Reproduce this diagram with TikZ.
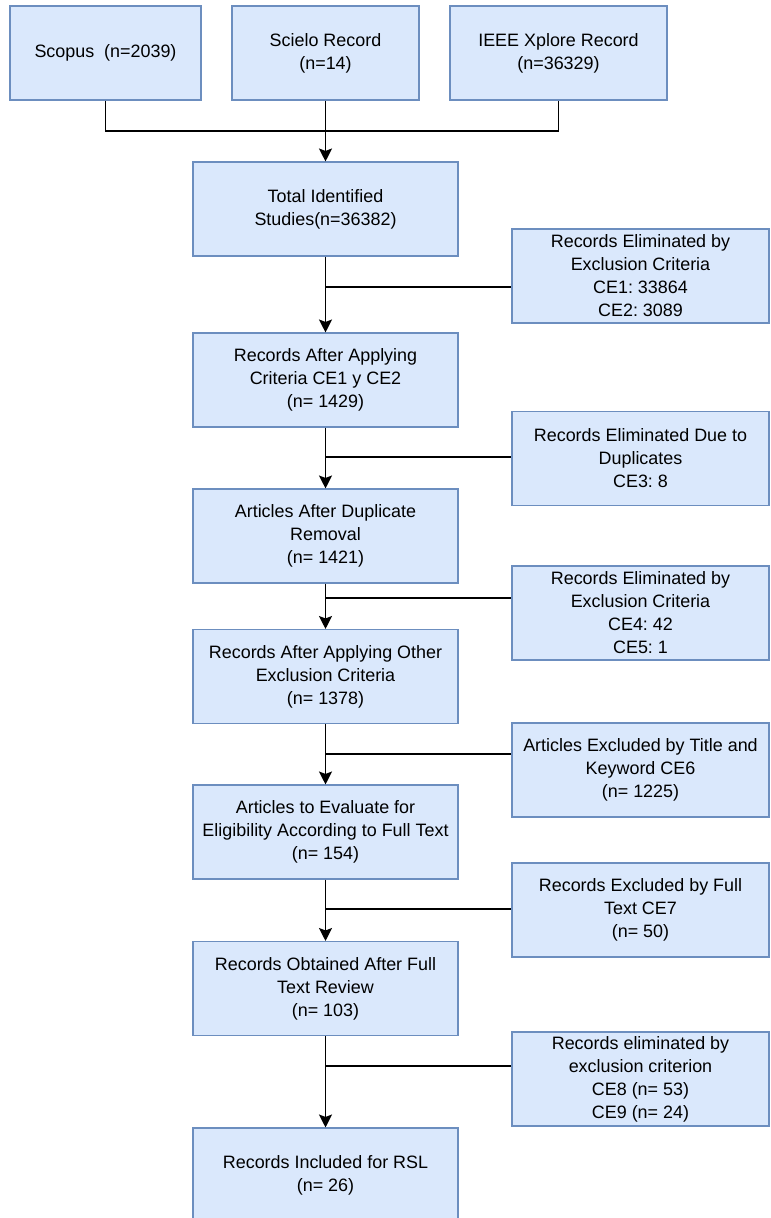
\documentclass[tikz,border=0pt]{standalone}
\usepackage{fontspec}
\setmainfont{Liberation Sans}
\usetikzlibrary{arrows.meta, positioning}

\definecolor{boxfill}{HTML}{DAE8FC}
\definecolor{boxline}{HTML}{6C8EBF}
\frenchspacing

\begin{document}
\begin{tikzpicture}[
    box/.style={rectangle, draw=boxline, line width=0.6pt, fill=boxfill, minimum width=5.3cm, minimum height=1.88cm, text centered, align=center, inner sep=1pt, font=\fontsize{10.2pt}{13.1pt}\selectfont},
    side/.style={box, minimum width=5.14cm},
    line/.style={line width=0.75pt},
    arrow/.style={-{Stealth[length=2.6mm, width=2.6mm, inset=0.5mm]}, line width=0.75pt}
]
\useasboundingbox (0,0) rectangle (15.4,-24.36);

% Sources (Top)
\node[box, minimum width=3.82cm] (scopus) at (2.11,-1.06) {Scopus\ \ (n=2039)};
\node[box, minimum width=3.74cm] (scielo) at (6.51,-1.06) {Scielo Record\\(n=14)};
\node[box, minimum width=4.34cm] (ieee) at (11.17,-1.06) {IEEE Xplore Record\\(n=36329)};

% Main flow
\node[box] (total) at (6.51,-4.18) {Total Identified\\Studies(n=36382)};
\node[box] (crit) at (6.51,-7.60) {Records After Applying\\Criteria CE1 y CE2\\(n= 1429)};
\node[box] (dedup) at (6.51,-10.72) {Articles After Duplicate\\Removal\\(n= 1421)};
\node[box] (other) at (6.51,-13.53) {Records After Applying Other\\Exclusion Criteria\\(n= 1378)};
\node[box] (elig) at (6.51,-16.64) {Articles to Evaluate for\\Eligibility According to Full Text\\(n= 154)};
\node[box] (review) at (6.51,-19.77) {Records Obtained After Full\\Text Review\\(n= 103)};
\node[box] (incl) at (6.51,-23.50) {Records Included for RSL\\(n= 26)};

% Exclusions (Right side)
\node[side] (ex1) at (12.81,-5.52) {Records Eliminated by\\Exclusion Criteria\\CE1: 33864\\CE2: 3089};
\node[side] (ex2) at (12.81,-9.17) {Records Eliminated Due to\\Duplicates\\CE3: 8};
\node[side] (ex3) at (12.81,-12.26) {Records Eliminated by\\Exclusion Criteria\\CE4: 42\\CE5: 1};
\node[side] (ex4) at (12.81,-15.40) {Articles Excluded by Title and\\Keyword CE6\\(n= 1225)};
\node[side] (ex5) at (12.81,-18.20) {Records Excluded by Full\\Text CE7\\(n= 50)};
\node[side] (ex6) at (12.81,-21.58) {Records eliminated by\\exclusion criterion\\CE8 (n= 53)\\CE9 (n= 24)};

% Merge of sources
\coordinate (join) at (6.51,-2.62);
\draw[line] (scopus.south) |- (join) -| (ieee.south);
\draw[line] (scielo.south) -- (join);
\draw[arrow] (join) -- (total);

% Trunk
\draw[arrow] (total) -- (crit);
\draw[arrow] (crit) -- (dedup);
\draw[arrow] (dedup) -- (other);
\draw[arrow] (other) -- (elig);
\draw[arrow] (elig) -- (review);
\draw[arrow] (review) -- (incl);

% Branches to exclusions
\coordinate (b1) at (6.51,-5.74);
\coordinate (b2) at (6.51,-9.14);
\coordinate (b3) at (6.51,-11.96);
\coordinate (b4) at (6.51,-15.08);
\coordinate (b5) at (6.51,-18.18);
\coordinate (b6) at (6.51,-21.32);
\draw[line] (b1) -- (b1 -| ex1.west);
\draw[line] (b2) -- (b2 -| ex2.west);
\draw[line] (b3) -- (b3 -| ex3.west);
\draw[line] (b4) -- (b4 -| ex4.west);
\draw[line] (b5) -- (b5 -| ex5.west);
\draw[line] (b6) -- (b6 -| ex6.west);

\end{tikzpicture}
\end{document}
